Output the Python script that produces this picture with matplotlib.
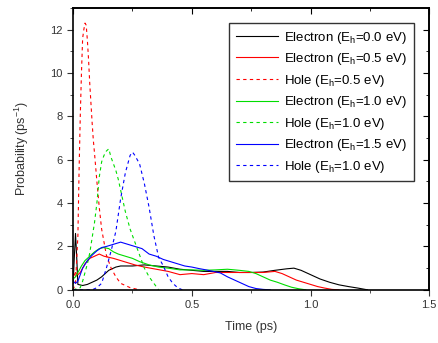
import matplotlib
matplotlib.use('Agg')
import matplotlib.pyplot as plt
from matplotlib.ticker import MultipleLocator

# Electron, E_h = 0.0 eV
e00_t = [0.0, 0.005, 0.01, 0.015, 0.02, 0.04, 0.06, 0.08, 0.10, 0.12, 0.15, 0.18, 0.20, 0.25, 0.30, 0.35,
         0.40, 0.45, 0.50, 0.55, 0.60, 0.65, 0.70, 0.75, 0.80, 0.85, 0.90, 0.93, 0.96, 1.00, 1.04, 1.08,
         1.12, 1.16, 1.20, 1.24]
e00_p = [0.3, 1.5, 2.6, 1.5, 0.25, 0.2, 0.25, 0.35, 0.45, 0.6, 0.9, 1.05, 1.1, 1.1, 1.15, 1.1,
         1.05, 0.95, 0.9, 0.85, 0.85, 0.85, 0.8, 0.8, 0.82, 0.9, 0.97, 1.0, 0.9, 0.7, 0.5, 0.35,
         0.23, 0.15, 0.08, 0.0]

# Electron, E_h = 0.5 eV
e05_t = [0.0, 0.01, 0.02, 0.03, 0.05, 0.07, 0.09, 0.11, 0.13, 0.15, 0.17, 0.20, 0.23, 0.26, 0.30, 0.35,
         0.40, 0.45, 0.50, 0.55, 0.60, 0.65, 0.70, 0.75, 0.80, 0.85, 0.88, 0.91, 0.94, 0.97, 1.00, 1.03,
         1.06, 1.09, 1.12]
e05_p = [0.6, 0.8, 0.7, 0.8, 1.2, 1.45, 1.55, 1.65, 1.55, 1.5, 1.45, 1.35, 1.25, 1.15, 1.05, 0.95,
         0.85, 0.7, 0.75, 0.7, 0.8, 0.8, 0.8, 0.8, 0.8, 0.85, 0.75, 0.6, 0.45, 0.35, 0.25, 0.15,
         0.08, 0.02, 0.0]

# Hole, E_h = 0.5 eV
h05_t = [0.0, 0.01, 0.02, 0.025, 0.03, 0.035, 0.04, 0.045, 0.05, 0.055, 0.06, 0.065, 0.07, 0.075, 0.08,
         0.085, 0.09, 0.10, 0.11, 0.12, 0.13, 0.14, 0.16, 0.18, 0.20, 0.24, 0.28]
h05_p = [0.0, 0.3, 2.5, 5.5, 8.0, 10.0, 11.6, 12.0, 12.3, 12.2, 11.5, 10.6, 9.5, 8.6, 7.7,
         6.9, 6.3, 5.0, 3.8, 2.8, 2.2, 1.6, 1.0, 0.6, 0.3, 0.1, 0.0]

# Electron, E_h = 1.0 eV
e10_t = [0.0, 0.01, 0.02, 0.035, 0.05, 0.07, 0.09, 0.11, 0.13, 0.15, 0.17, 0.19, 0.22, 0.25, 0.28, 0.32,
         0.36, 0.40, 0.45, 0.50, 0.55, 0.60, 0.65, 0.70, 0.74, 0.77, 0.80, 0.83, 0.86, 0.89, 0.92, 0.95,
         0.98]
e10_p = [0.5, 0.6, 0.8, 1.1, 1.35, 1.55, 1.75, 1.9, 1.95, 1.9, 1.75, 1.65, 1.55, 1.45, 1.3, 1.15,
         1.05, 1.0, 0.92, 0.92, 0.9, 0.92, 0.95, 0.9, 0.85, 0.75, 0.6, 0.45, 0.35, 0.23, 0.12, 0.05,
         0.0]

# Hole, E_h = 1.0 eV
h10_t = [0.0, 0.03, 0.04, 0.05, 0.06, 0.07, 0.08, 0.09, 0.10, 0.11, 0.12, 0.13, 0.14, 0.15, 0.16, 0.17,
         0.18, 0.19, 0.20, 0.22, 0.24, 0.26, 0.28, 0.30, 0.32, 0.34, 0.36]
h10_p = [0.0, 0.1, 0.4, 0.8, 1.2, 1.7, 2.4, 3.1, 4.0, 5.2, 5.9, 6.2, 6.4, 6.5, 6.1, 5.8,
         5.5, 5.1, 4.6, 3.6, 2.8, 2.2, 1.6, 1.0, 0.6, 0.3, 0.0]

# Electron, E_h = 1.5 eV
e15_t = [0.0, 0.01, 0.02, 0.04, 0.06, 0.08, 0.10, 0.12, 0.14, 0.17, 0.20, 0.23, 0.26, 0.29, 0.32, 0.35,
         0.38, 0.41, 0.44, 0.47, 0.50, 0.53, 0.56, 0.59, 0.62, 0.65, 0.68, 0.71, 0.74, 0.77, 0.80, 0.83]
e15_p = [0.4, 0.3, 0.4, 1.0, 1.35, 1.6, 1.8, 1.95, 2.0, 2.1, 2.2, 2.1, 2.0, 1.9, 1.65, 1.55,
         1.4, 1.3, 1.2, 1.1, 1.05, 0.98, 0.92, 0.85, 0.78, 0.6, 0.45, 0.3, 0.15, 0.06, 0.02, 0.0]

# Hole (second blue curve, labelled 1.0 eV in the original)
h15_t = [0.0, 0.08, 0.10, 0.12, 0.14, 0.16, 0.18, 0.20, 0.22, 0.24, 0.25, 0.26, 0.28, 0.30, 0.32, 0.34,
         0.36, 0.38, 0.40, 0.42, 0.44, 0.46]
h15_p = [0.0, 0.0, 0.1, 0.3, 1.0, 1.8, 2.7, 4.2, 5.4, 6.2, 6.35, 6.2, 5.8, 4.9, 3.8, 2.5,
         1.5, 1.1, 0.6, 0.3, 0.1, 0.0]

plt.rcParams['font.family'] = ['Liberation Sans', 'DejaVu Sans']
plt.rcParams['mathtext.fontset'] = 'custom'
plt.rcParams['mathtext.rm'] = 'Liberation Sans'

fig = plt.figure(figsize=(4.38, 3.43), dpi=100)
ax = fig.add_axes([0.167, 0.155, 0.813, 0.822])

dash = (0, (3, 3))
ax.plot(e00_t, e00_p, color='black', lw=0.8, label=r'Electron (E$_\mathrm{h}$=0.0 eV)')
ax.plot(e05_t, e05_p, color='red', lw=0.8, label=r'Electron (E$_\mathrm{h}$=0.5 eV)')
ax.plot(h05_t, h05_p, color='red', lw=0.8, ls=dash, label=r'Hole (E$_\mathrm{h}$=0.5 eV)')
ax.plot(e10_t, e10_p, color='#00dd00', lw=0.8, label=r'Electron (E$_\mathrm{h}$=1.0 eV)')
ax.plot(h10_t, h10_p, color='#00dd00', lw=0.8, ls=dash, label=r'Hole (E$_\mathrm{h}$=1.0 eV)')
ax.plot(e15_t, e15_p, color='blue', lw=0.8, label=r'Electron (E$_\mathrm{h}$=1.5 eV)')
ax.plot(h15_t, h15_p, color='blue', lw=0.8, ls=dash, label=r'Hole (E$_\mathrm{h}$=1.0 eV)')

ax.set_xlim(0, 1.5)
ax.set_ylim(0, 13)
ax.xaxis.set_major_locator(MultipleLocator(0.5))
ax.xaxis.set_minor_locator(MultipleLocator(0.25))
ax.yaxis.set_major_locator(MultipleLocator(2))
ax.yaxis.set_minor_locator(MultipleLocator(1))
ax.xaxis.set_major_formatter(plt.FuncFormatter(lambda v, p: '%.1f' % v))
ax.tick_params(which='both', direction='out', labelsize=8, colors='#333333')
ax.tick_params(which='major', length=4)
ax.tick_params(which='minor', length=2.5)
for s in ax.spines.values():
    s.set_linewidth(1.2)

# top and right ticks point inward
top = ax.secondary_xaxis('top')
top.xaxis.set_major_locator(MultipleLocator(0.5))
top.xaxis.set_minor_locator(MultipleLocator(0.25))
top.tick_params(which='both', direction='in', labeltop=False)
top.tick_params(which='major', length=4)
top.tick_params(which='minor', length=2.5)
right = ax.secondary_yaxis('right')
right.yaxis.set_major_locator(MultipleLocator(2))
right.yaxis.set_minor_locator(MultipleLocator(1))
right.tick_params(which='both', direction='in', labelright=False)
right.tick_params(which='major', length=4)
right.tick_params(which='minor', length=2.5)
for sec in (top, right):
    for s in sec.spines.values():
        s.set_linewidth(1.2)

ax.set_xlabel('Time (ps)', fontsize=9, color='#333333', labelpad=8)
ax.set_ylabel(r'Probability (ps$^{-1}$)', fontsize=9, color='#333333', labelpad=14)

leg = ax.legend(loc='upper right', fontsize=9.5, frameon=True, fancybox=False, edgecolor='black',
                handlelength=3.2, labelspacing=0.42, borderpad=0.5, handletextpad=0.5,
                bbox_to_anchor=(0.975, 0.97))
leg.get_frame().set_linewidth(1.0)

fig.savefig('out.png', dpi=100)
